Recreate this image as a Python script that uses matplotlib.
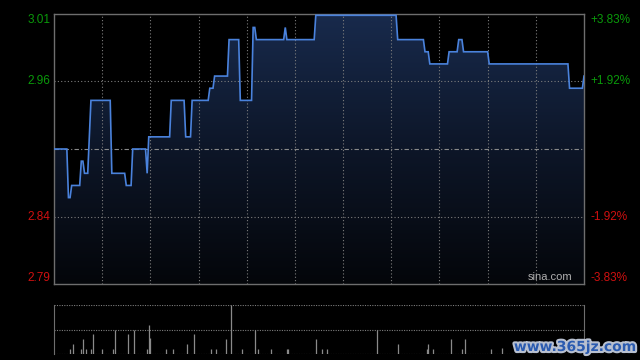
import numpy as np
import matplotlib
matplotlib.use('Agg')
import matplotlib.pyplot as plt
from matplotlib.colors import LinearSegmentedColormap
import matplotlib.patheffects as pe

# ---------------- data ----------------
prev_close = 2.90
range_pct = 3.83
grid_pct = 1.92

price_minutes = [0, 8, 9, 10, 11, 16, 17, 18, 19, 21, 23, 35, 36, 44, 45, 48, 49, 56, 57, 58,
                 59, 72, 73, 81, 82, 85, 86, 96, 97, 99, 100, 108, 109, 115, 116, 123, 124, 125,
                 126, 143, 144, 145, 162, 163, 213, 214, 230, 231, 233, 234, 245, 246, 251, 252,
                 254, 255, 270, 271, 320, 321, 329, 330]
prices = [2.90, 2.90, 2.86, 2.86, 2.87, 2.87, 2.89, 2.89, 2.88, 2.88, 2.94, 2.94, 2.88, 2.88,
          2.87, 2.87, 2.90, 2.90, 2.90, 2.88, 2.91, 2.91, 2.94, 2.94, 2.91, 2.91, 2.94, 2.94,
          2.95, 2.95, 2.96, 2.96, 2.99, 2.99, 2.94, 2.94, 3.00, 3.00, 2.99, 2.99, 3.00, 2.99,
          2.99, 3.01, 3.01, 2.99, 2.99, 2.98, 2.98, 2.97, 2.97, 2.98, 2.98, 2.99, 2.99, 2.98,
          2.98, 2.97, 2.97, 2.95, 2.95, 2.96]

vol_minutes = [10, 12, 17, 18, 20, 23, 24, 30, 37, 38, 46, 50, 58, 59, 60, 70, 74, 83, 87, 98,
               101, 107, 110, 117, 125, 127, 135, 145, 146, 163, 167, 170, 201, 214, 232, 233,
               236, 247, 254, 256, 272, 279]
vol_values = [1, 2, 1, 3, 1, 1, 4, 1, 1, 5, 4, 5, 1, 6, 3.3, 1, 1, 2, 4, 1,
              1, 3, 10, 1, 5, 1, 1, 1, 1, 3, 1, 1, 5, 2, 1, 2,
              1, 3, 1, 3, 1, 1.2]
vol_max = 10

left_labels = ['3.01', '2.96', '2.84', '2.79']
right_labels = ['+3.83%', '+1.92%', '-1.92%', '-3.83%']
label_pcts = [range_pct, grid_pct, -grid_pct, -range_pct]
total_minutes = 330

# ---------------- figure ----------------
W, H = 640, 360
fig = plt.figure(figsize=(W / 100, H / 100), dpi=100, facecolor='black')
plt.rcParams['font.family'] = ['Liberation Sans', 'DejaVu Sans']

ax = fig.add_axes([54 / W, 1 - 284 / H, 530 / W, 270 / H])
ax.set_facecolor('black')
lo = prev_close * (1 - range_pct / 100)
hi = prev_close * (1 + range_pct / 100)
ax.set_xlim(0, total_minutes)
ax.set_ylim(lo, hi)
ax.set_xticks([])
ax.set_yticks([])
for s in ax.spines.values():
    s.set_color('#6e6e6e')
    s.set_linewidth(1.0)

# gradient fill under line
x = np.array(price_minutes, dtype=float)
y = np.array(prices, dtype=float)
poly = ax.fill_between(x, y, lo, facecolor='none', edgecolor='none')
cmap = LinearSegmentedColormap.from_list('g', ['#04060a', '#0d1628', '#182a4c'])
grad = np.linspace(0, 1, 256).reshape(-1, 1)
im = ax.imshow(grad, extent=[0, total_minutes, lo, hi], origin='lower', aspect='auto',
               cmap=cmap, zorder=1)
path = poly.get_paths()[0]
im.set_clip_path(path, transform=ax.transData)

# grid lines
gcol = '#7d7d7d'
for m in range(30, total_minutes, 30):
    ax.axvline(m, color=gcol, lw=0.8, ls=(0, (1, 2)), zorder=2)
for p in (grid_pct, -grid_pct):
    ax.axhline(prev_close * (1 + p / 100), color=gcol, lw=0.8, ls=(0, (1, 2)), zorder=2)
ax.axhline(prev_close, color='#8a8a8a', lw=0.8, ls=(0, (4, 2, 1, 2)), zorder=2)

ax.plot(x, y, color='#4a82dc', lw=1.2, zorder=3, solid_joinstyle='miter')

# labels
for lab, rl, p in zip(left_labels, right_labels, label_pcts):
    yv = prev_close * (1 + p / 100)
    col = '#0a9a0a' if p > 0 else '#d01010'
    if p == range_pct:
        va = 'top'
    elif p == -range_pct:
        va = 'bottom'
    else:
        va = 'center'
    ax.annotate(lab, xy=(0, yv), xycoords=('axes fraction', 'data'), xytext=(-2.5, 0),
                textcoords='offset points', ha='right', va=va, color=col, fontsize=8.5)
    ax.annotate(rl, xy=(1, yv), xycoords=('axes fraction', 'data'), xytext=(4.5, 0),
                textcoords='offset points', ha='left', va=va, color=col, fontsize=8.5)

ax.text(0.978, 0.008, 'sina.com', transform=ax.transAxes, ha='right', va='bottom',
        color='#b0b0b0', fontsize=8, zorder=4)

# volume panel
vax = fig.add_axes([54 / W, 1 - 354.3 / H, 530 / W, 49.6 / H])
vax.set_facecolor('black')
vax.set_xlim(0, total_minutes)
vax.set_ylim(0, vol_max)
vax.set_xticks([])
vax.set_yticks([])
for k in ('top', 'bottom'):
    vax.spines[k].set_visible(False)
for k in ('left', 'right'):
    vax.spines[k].set_color('#6e6e6e')
vax.axhline(vol_max, color=gcol, lw=0.8, ls=(0, (1, 1.2)))
vax.axhline(vol_max / 2, color=gcol, lw=0.8, ls=(0, (1, 1.2)))
vax.axhline(0, color=gcol, lw=0.8, ls=(0, (1, 1.2)))
vax.vlines(vol_minutes, 0, vol_values, color='#8a8a8a', lw=0.9)

fig.text(575 / W, 1 - 347 / H, 'www.365jz.com', ha='center', va='center', color='#2b5bb0',
         fontsize=10, fontweight='bold', family='DejaVu Sans',
         path_effects=[pe.withStroke(linewidth=3, foreground='#b8c0d0')])

fig.savefig('out.png', dpi=100, facecolor='black')
